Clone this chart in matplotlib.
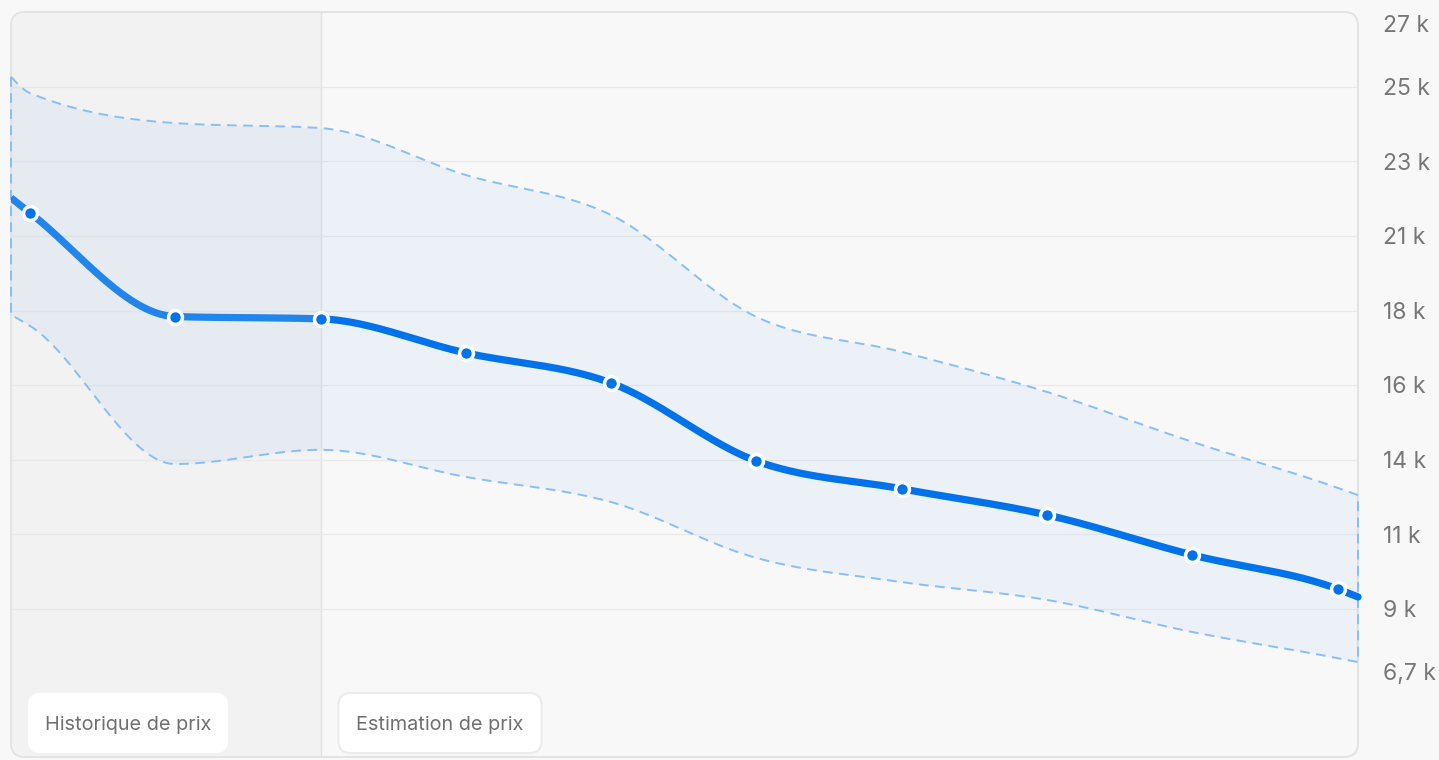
import numpy as np
import matplotlib.pyplot as plt
from matplotlib.patches import FancyBboxPatch
from matplotlib.transforms import IdentityTransform

plt.rcParams['font.family'] = ['Inter', 'DejaVu Sans']

# Data (prices in thousands), edge points sit on the panel borders
x_pts = [-0.13, 0, 1, 2, 3, 4, 5, 6, 7, 8, 9, 9.14]
price = [21.39, 20.94, 17.80, 17.73, 16.70, 15.79, 13.43, 12.59, 11.80, 10.59, 9.56, 9.32]
upper = [25.05, 24.56, 23.65, 23.50, 22.08, 20.87, 17.79, 16.73, 15.52, 14.01, 12.62, 12.40]
lower = [17.85, 17.52, 13.34, 13.77, 12.95, 12.19, 10.50, 9.77, 9.23, 8.26, 7.47, 7.35]
history_end = 2

y_labels = ['6,7 k', '9 k', '11 k', '14 k', '16 k', '18 k', '21 k', '23 k', '25 k', '27 k']
y_min, y_max = 6.7, 27
box_labels = ['Historique de prix', 'Estimation de prix']

BLUE = '#0073ea'
BAND = '#0a78f0'
DASH = '#86bff7'


# monotone cubic curve (same slopes as d3.curveMonotoneX)
def monotone_curve(xs, ys, n=60):
    xs = np.asarray(xs, float)
    ys = np.asarray(ys, float)
    h = np.diff(xs)
    s = np.diff(ys) / h
    m = np.zeros_like(ys)
    for i in range(1, len(xs) - 1):
        p = (s[i - 1] * h[i] + s[i] * h[i - 1]) / (h[i - 1] + h[i])
        m[i] = (np.sign(s[i - 1]) + np.sign(s[i])) * min(abs(s[i - 1]), abs(s[i]), 0.5 * abs(p))
    m[0] = (3 * s[0] - m[1]) / 2
    m[-1] = (3 * s[-1] - m[-2]) / 2
    out_x, out_y = [], []
    for i in range(len(xs) - 1):
        t = np.linspace(0, 1, n)
        h00 = 2 * t**3 - 3 * t**2 + 1
        h10 = t**3 - 2 * t**2 + t
        h01 = -2 * t**3 + 3 * t**2
        h11 = t**3 - t**2
        out_x.append(xs[i] + t * h[i])
        out_y.append(h00 * ys[i] + h10 * h[i] * m[i] + h01 * ys[i + 1] + h11 * h[i] * m[i + 1])
    return np.concatenate(out_x), np.concatenate(out_y)


W, H = 1439, 760
fig = plt.figure(figsize=(W / 100, H / 100), dpi=100, facecolor='#f8f8f8')
L, B, PW, PH = 11, 3, 1347, 745
ax = fig.add_axes([L / W, B / H, PW / W, PH / H])
ax.set_xlim(x_pts[0], x_pts[-1])
ax.set_ylim(4.48, 27.01)
ax.axis('off')

# rounded panel (border below the plot, grey area clipped just inside it)
panel = FancyBboxPatch((L, B), PW, PH, boxstyle='round,pad=0,rounding_size=14',
                       transform=IdentityTransform(), fc='#f8f8f8', ec='#e3e3e3', lw=1.5, zorder=-1)
fig.add_artist(panel)
inner = FancyBboxPatch((L + 1, B + 1), PW - 2, PH - 2, boxstyle='round,pad=0,rounding_size=13',
                       transform=IdentityTransform(), fc='none', ec='none')

span = ax.axvspan(x_pts[0], history_end, color='#f2f2f2', zorder=0, lw=0)
span.set_clip_path(inner)
ax.axvline(history_end, color='#e2e2e2', lw=1, zorder=1)

ticks = np.linspace(y_min, y_max, len(y_labels))
ax.hlines(ticks[1:-1], x_pts[0], x_pts[-1], color='#e9e9e9', lw=0.9, zorder=1)
for i, (v, lab) in enumerate(zip(ticks, y_labels)):
    dy = 8.6 if i == 0 else (-8.6 if i == len(ticks) - 1 else 0)
    ax.annotate(lab, xy=(1, v), xycoords=('axes fraction', 'data'), xytext=(18.2, dy - 1.5),
                textcoords='offset points', ha='left', va='center', fontsize=16.5,
                color='#777777', annotation_clip=False)

# confidence band
ux, uy = monotone_curve(x_pts, upper)
lx, ly = monotone_curve(x_pts, lower)
ax.fill_between(ux, uy, ly, color=BAND, alpha=0.05, lw=0, zorder=2)
bx = np.concatenate([ux, lx[::-1], ux[:1]])
by = np.concatenate([uy, ly[::-1], uy[:1]])
ax.plot(bx, by, color=DASH, lw=1.4, linestyle=(0, (5, 3.3)), zorder=3, clip_on=False)

# price line
px, py = monotone_curve(x_pts, price)
hist = px <= history_end
ax.plot(px[hist], py[hist], color=BLUE, lw=5.2, alpha=0.85, solid_capstyle='butt', zorder=4)
ax.plot(px[~hist], py[~hist], color=BLUE, lw=5.2, solid_capstyle='round', zorder=4, clip_on=False)
ax.plot(x_pts[1:-1], price[1:-1], 'o', color=BLUE, ms=10, mec='white', mew=2.5, zorder=5)

# section labels
x2_px = L + PW * (history_end - x_pts[0]) / (x_pts[-1] - x_pts[0])
for left, wd, text, ec in [(L + 17, 200, box_labels[0], 'none'),
                           (x2_px + 18, 203, box_labels[1], '#ebebeb')]:
    fig.add_artist(FancyBboxPatch((left, 7), wd, 60, boxstyle='round,pad=0,rounding_size=12',
                                  transform=IdentityTransform(), fc='white', ec=ec, lw=1.5, zorder=6))
    fig.text((left + wd / 2) / W, 35.5 / H, text, ha='center', va='center', fontsize=14.3,
             color='#707070', zorder=7)

fig.savefig('out.png', dpi=100, facecolor=fig.get_facecolor())
